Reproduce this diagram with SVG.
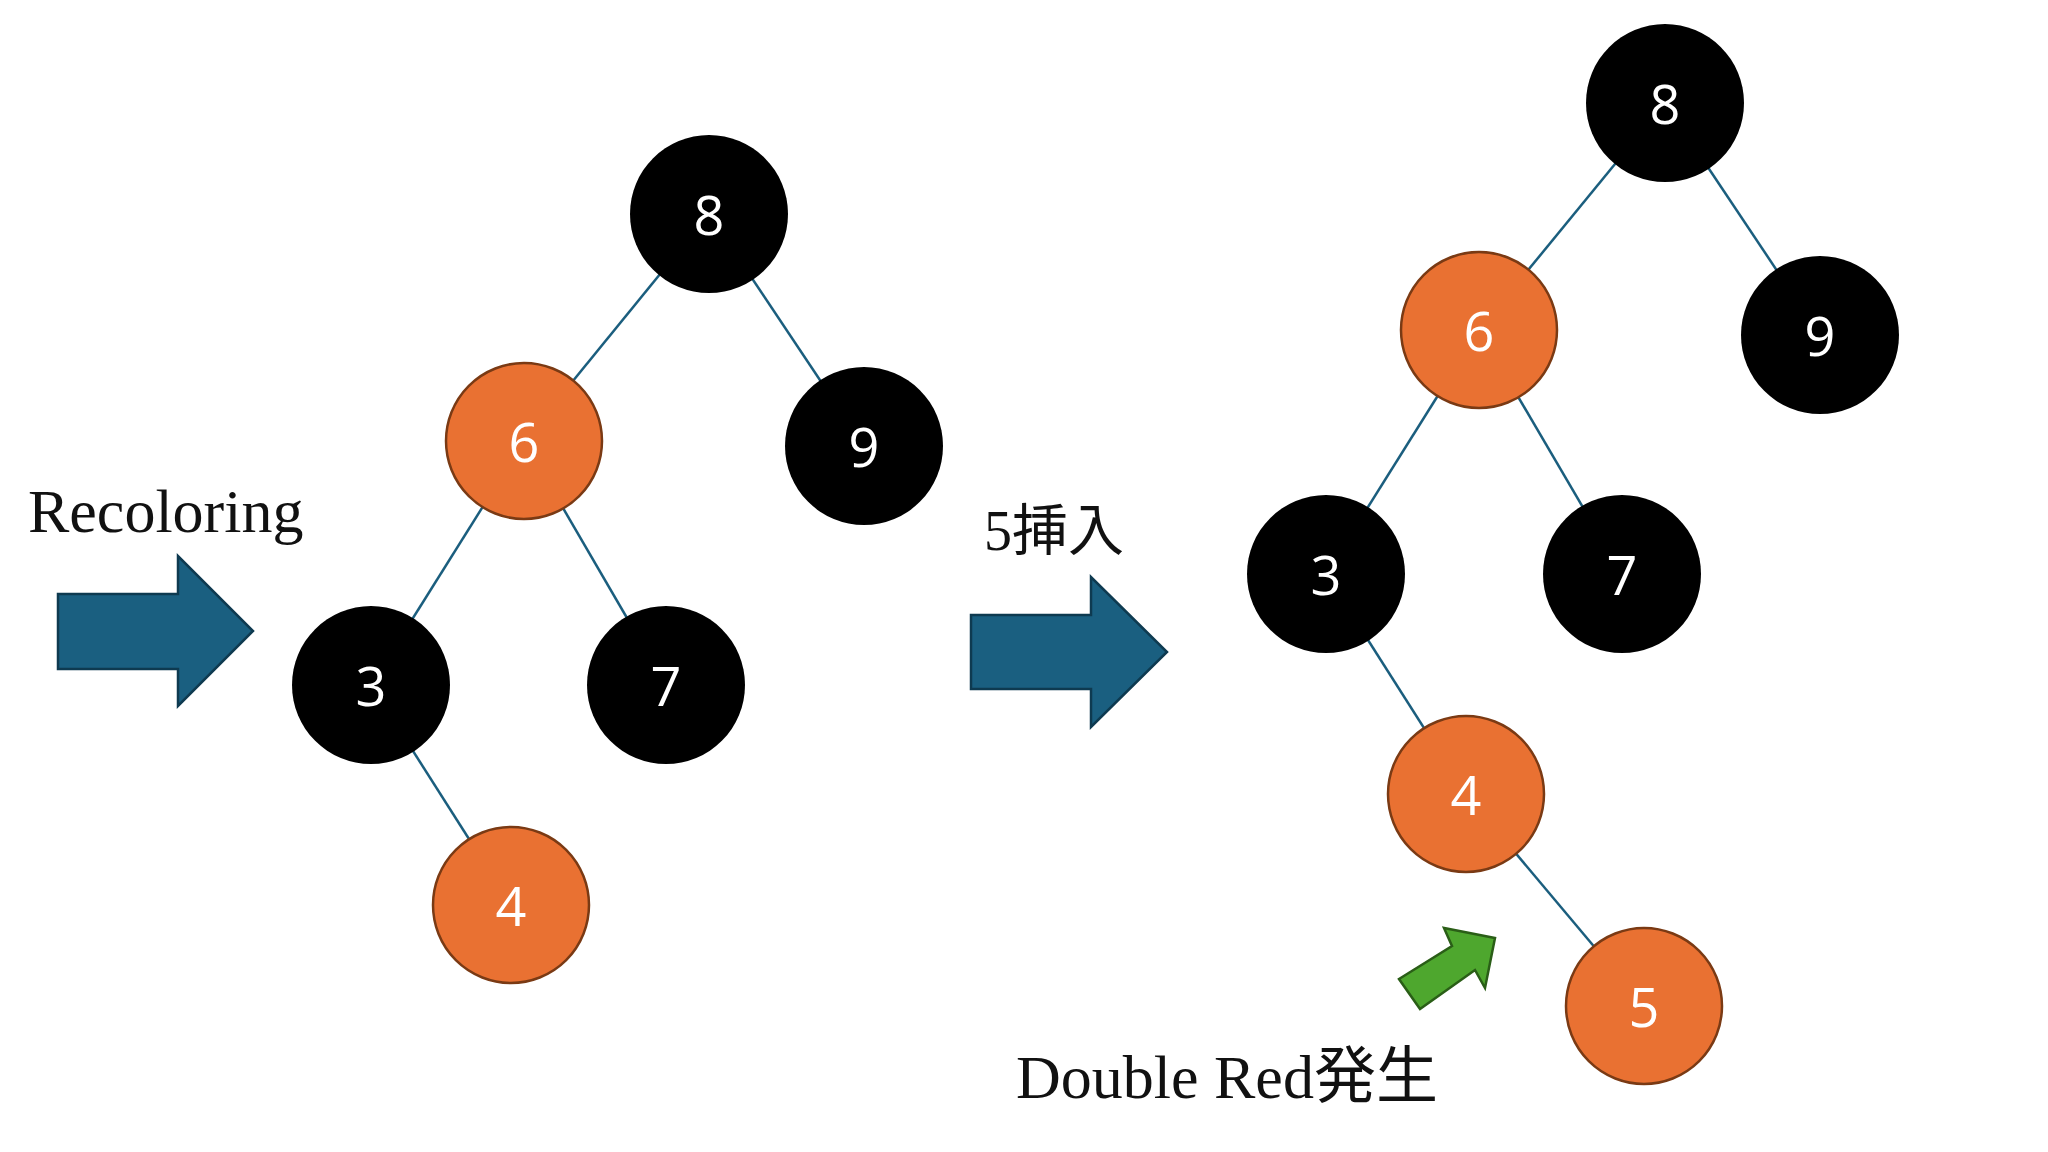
<svg xmlns="http://www.w3.org/2000/svg" width="2048" height="1152" viewBox="0 0 2048 1152">
<style>
.b{fill:#000}
.r{fill:#e97132;stroke:#7a3a14;stroke-width:2.5}
.t{fill:#fff;font-family:"Open Sans","Noto Sans",sans-serif;font-size:54px;text-anchor:middle;dominant-baseline:central}
.e{stroke:#1b5e7e;stroke-width:2.5}
.lab{fill:#111;font-family:"Liberation Serif","Noto Sans CJK JP",serif}
.ar{fill:#1a5f80;stroke:#0e3a50;stroke-width:2.5}
</style>
<rect width="2048" height="1152" fill="#fff"/>
<g id="connectors">
<line class="e" x1="709" y1="214" x2="524" y2="441"/>
<line class="e" x1="709" y1="214" x2="864" y2="446"/>
<line class="e" x1="524" y1="441" x2="371" y2="685"/>
<line class="e" x1="524" y1="441" x2="666" y2="685"/>
<line class="e" x1="371" y1="685" x2="511" y2="905"/>
<line class="e" x1="1665" y1="103" x2="1479" y2="330"/>
<line class="e" x1="1665" y1="103" x2="1820" y2="335"/>
<line class="e" x1="1479" y1="330" x2="1326" y2="574"/>
<line class="e" x1="1479" y1="330" x2="1622" y2="574"/>
<line class="e" x1="1326" y1="574" x2="1466" y2="794"/>
<line class="e" x1="1466" y1="794" x2="1644" y2="1006"/>
</g>
<g id="L8"><circle class="b" cx="709" cy="214" r="79"/><text class="t" x="709" y="214">8</text></g>
<g id="L6"><circle class="r" cx="524" cy="441" r="78"/><text class="t" x="524" y="441">6</text></g>
<g id="L9"><circle class="b" cx="864" cy="446" r="79"/><text class="t" x="864" y="446">9</text></g>
<g id="L3"><circle class="b" cx="371" cy="685" r="79"/><text class="t" x="371" y="685">3</text></g>
<g id="L7"><circle class="b" cx="666" cy="685" r="79"/><text class="t" x="666" y="685">7</text></g>
<g id="L4"><circle class="r" cx="511" cy="905" r="78"/><text class="t" x="511" y="905">4</text></g>
<g id="R8"><circle class="b" cx="1665" cy="103" r="79"/><text class="t" x="1665" y="103">8</text></g>
<g id="R6"><circle class="r" cx="1479" cy="330" r="78"/><text class="t" x="1479" y="330">6</text></g>
<g id="R9"><circle class="b" cx="1820" cy="335" r="79"/><text class="t" x="1820" y="335">9</text></g>
<g id="R3"><circle class="b" cx="1326" cy="574" r="79"/><text class="t" x="1326" y="574">3</text></g>
<g id="R7"><circle class="b" cx="1622" cy="574" r="79"/><text class="t" x="1622" y="574">7</text></g>
<g id="R4"><circle class="r" cx="1466" cy="794" r="78"/><text class="t" x="1466" y="794">4</text></g>
<g id="R5"><circle class="r" cx="1644" cy="1006" r="78"/><text class="t" x="1644" y="1006">5</text></g>
<g id="arrow1"><polygon class="ar" points="58,594 178,594 178,556 253,631 178,706 178,669 58,669"/></g>
<g id="arrow2"><polygon class="ar" points="971,615 1091,615 1091,577 1167,652 1091,727 1091,689 971,689"/></g>
<g id="arrow3"><polygon points="1399,979 1452,946 1444,928 1495,938 1485,988 1475,970 1420,1009" fill="#4ea72e" stroke="#2a5e17" stroke-width="2.5"/></g>
<text class="lab" x="28" y="532" font-size="62">Recoloring</text>
<text class="lab" x="984" y="550" font-size="56">5挿入</text>
<text class="lab" x="1016" y="1098" font-size="62">Double Red発生</text>
</svg>
